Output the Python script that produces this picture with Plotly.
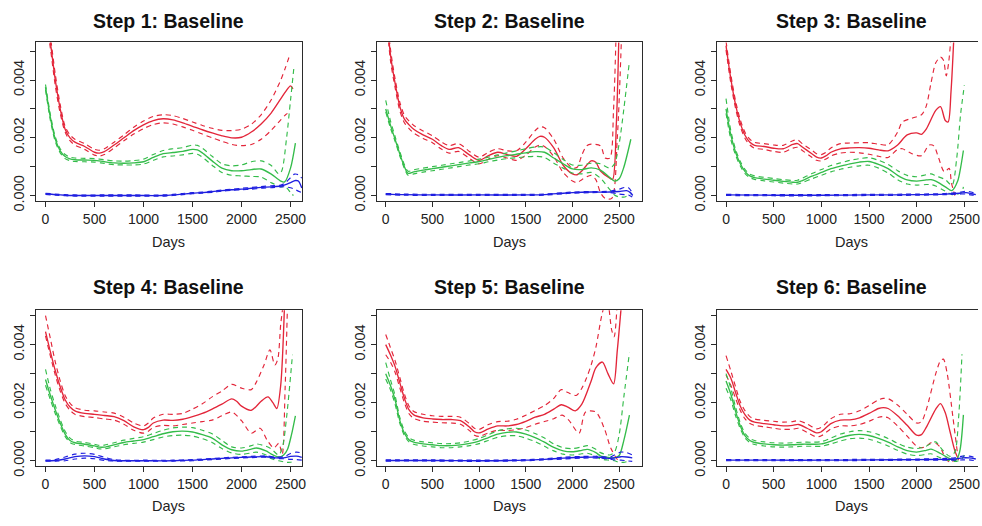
import plotly.graph_objects as go

UNIT = 1e-3  # all series values below are in units of 0.001
TITLES = ["Step 1: Baseline", "Step 2: Baseline", "Step 3: Baseline",
          "Step 4: Baseline", "Step 5: Baseline", "Step 6: Baseline"]
X_LABEL = "Days"
X_TICKS = [0, 500, 1000, 1500, 2000, 2500]
Y_TICKS = [0, 0.001, 0.002, 0.003, 0.004, 0.005]
Y_TICK_TEXT = ["0.000", "", "0.002", "", "0.004", ""]

# ---------------- Step 1 ----------------
P1_RED_MID = [(0,6.4),(50,5.3),(100,4.0),(150,3.0),(200,2.3),(250,2.0),(300,1.85),(400,1.7),(500,1.5),(550,1.47),(600,1.52),(700,1.75),(800,2.0),(900,2.25),(1000,2.45),(1100,2.6),(1200,2.66),(1300,2.62),(1400,2.52),(1500,2.4),(1600,2.28),(1700,2.17),(1800,2.07),(1900,2.0),(2000,2.02),(2100,2.2),(2200,2.48),(2300,2.85),(2400,3.35),(2450,3.6),(2500,3.8),(2525,3.7)]
P1_RED_HI = [(0,6.6),(50,5.5),(100,4.2),(150,3.15),(200,2.4),(250,2.1),(300,1.95),(400,1.8),(500,1.6),(550,1.57),(600,1.62),(700,1.85),(800,2.1),(900,2.37),(1000,2.58),(1100,2.74),(1200,2.8),(1300,2.77),(1400,2.67),(1500,2.55),(1600,2.43),(1700,2.33),(1800,2.26),(1900,2.25),(2000,2.3),(2100,2.47),(2200,2.8),(2300,3.3),(2400,4.0),(2450,4.45),(2490,4.85)]
P1_RED_LO = [(0,6.2),(50,5.1),(100,3.8),(150,2.85),(200,2.2),(250,1.9),(300,1.75),(400,1.6),(500,1.4),(550,1.37),(600,1.42),(700,1.65),(800,1.9),(900,2.13),(1000,2.32),(1100,2.46),(1200,2.52),(1300,2.48),(1400,2.38),(1500,2.26),(1600,2.13),(1700,2.0),(1800,1.88),(1900,1.77),(2000,1.73),(2100,1.77),(2200,1.95),(2300,2.25),(2400,2.62),(2450,2.8),(2490,2.9)]
P1_GRN_MID = [(0,3.76),(50,2.7),(100,1.95),(150,1.55),(200,1.35),(250,1.27),(300,1.24),(400,1.23),(500,1.22),(600,1.17),(700,1.13),(800,1.12),(900,1.13),(1000,1.17),(1100,1.32),(1200,1.45),(1300,1.49),(1400,1.53),(1500,1.6),(1550,1.58),(1600,1.48),(1700,1.2),(1800,0.95),(1900,0.86),(2000,0.86),(2100,0.9),(2200,0.92),(2300,0.75),(2400,0.5),(2440,0.47),(2500,0.95),(2550,1.82)]
P1_GRN_HI = [(0,3.85),(50,2.8),(100,2.03),(150,1.62),(200,1.42),(250,1.33),(300,1.3),(400,1.29),(500,1.28),(600,1.24),(700,1.2),(800,1.19),(900,1.21),(1000,1.26),(1100,1.42),(1200,1.56),(1300,1.62),(1400,1.66),(1500,1.75),(1550,1.74),(1600,1.64),(1700,1.36),(1800,1.1),(1900,1.03),(2000,1.06),(2100,1.17),(2200,1.2),(2300,1.05),(2380,0.75),(2410,0.85),(2460,2.0),(2500,3.3),(2535,4.45)]
P1_GRN_LO = [(0,3.67),(50,2.6),(100,1.87),(150,1.48),(200,1.28),(250,1.21),(300,1.18),(400,1.17),(500,1.16),(600,1.11),(700,1.07),(800,1.06),(900,1.06),(1000,1.09),(1100,1.22),(1200,1.34),(1300,1.37),(1400,1.41),(1500,1.46),(1550,1.43),(1600,1.33),(1700,1.05),(1800,0.8),(1900,0.7),(2000,0.68),(2100,0.66),(2200,0.64),(2300,0.45),(2400,0.3),(2450,0.3),(2500,0.1),(2530,0.0)]
P1_BLU_MID = [(0,0.06),(100,0.03),(200,0.01),(300,0.0),(600,0.0),(900,0.0),(1200,0.0),(1300,0.02),(1400,0.05),(1500,0.08),(1600,0.1),(1700,0.13),(1800,0.17),(1900,0.2),(2000,0.22),(2100,0.25),(2200,0.28),(2300,0.3),(2400,0.33),(2450,0.38),(2500,0.45),(2550,0.52),(2580,0.5),(2615,0.26)]
P1_BLU_HI = [(0,0.08),(100,0.05),(200,0.03),(300,0.02),(600,0.02),(900,0.02),(1200,0.02),(1300,0.04),(1400,0.07),(1500,0.1),(1600,0.12),(1700,0.15),(1800,0.19),(1900,0.22),(2000,0.25),(2100,0.28),(2200,0.31),(2300,0.34),(2400,0.36),(2450,0.45),(2500,0.62),(2540,0.74),(2580,0.72),(2615,0.6)]
P1_BLU_LO = [(0,0.04),(100,0.01),(200,-0.01),(300,-0.02),(600,-0.02),(900,-0.02),(1200,-0.02),(1300,0.0),(1400,0.03),(1500,0.06),(1600,0.08),(1700,0.11),(1800,0.15),(1900,0.18),(2000,0.2),(2100,0.22),(2200,0.25),(2300,0.27),(2400,0.3),(2450,0.3),(2500,0.27),(2550,0.2),(2615,0.1)]

# ---------------- Step 2 ----------------
P2_RED_MID = [(0,6.8),(50,4.9),(100,3.9),(150,3.1),(200,2.65),(250,2.45),(300,2.3),(400,2.1),(500,1.95),(600,1.72),(680,1.6),(780,1.66),(900,1.4),(1000,1.22),(1100,1.38),(1200,1.5),(1300,1.42),(1400,1.36),(1500,1.62),(1600,1.95),(1650,2.05),(1700,2.02),(1800,1.65),(1900,1.05),(2000,0.75),(2050,0.72),(2100,0.85),(2200,1.2),(2250,1.15),(2300,0.85),(2400,0.6),(2430,0.56),(2470,2.5),(2500,6.0)]
P2_RED_HI = [(0,7.0),(50,5.1),(100,4.05),(150,3.25),(200,2.78),(250,2.58),(300,2.43),(400,2.24),(500,2.07),(600,1.85),(680,1.73),(780,1.8),(900,1.52),(1000,1.33),(1100,1.5),(1200,1.62),(1300,1.55),(1400,1.55),(1500,1.85),(1600,2.25),(1650,2.38),(1700,2.35),(1800,1.95),(1900,1.3),(2000,0.95),(2050,0.98),(2100,1.4),(2150,1.72),(2200,1.78),(2300,1.72),(2350,1.3),(2400,1.3),(2440,3.0),(2470,6.0)]
P2_RED_LO = [(0,6.6),(50,4.7),(100,3.75),(150,2.95),(200,2.52),(250,2.32),(300,2.17),(400,1.98),(500,1.83),(600,1.6),(680,1.47),(780,1.53),(900,1.28),(1000,1.1),(1100,1.26),(1200,1.38),(1300,1.3),(1400,1.22),(1500,1.4),(1600,1.68),(1650,1.75),(1700,1.7),(1800,1.35),(1900,0.8),(2000,0.5),(2050,0.45),(2100,0.55),(2200,0.7),(2250,0.55),(2300,0.1),(2350,-0.1),(2420,-0.1),(2480,2.0),(2530,6.0)]
P2_GRN_MID = [(0,3.0),(50,2.45),(100,1.95),(150,1.45),(200,1.0),(240,0.77),(300,0.82),(400,0.88),(500,0.93),(600,0.98),(700,1.03),(800,1.08),(900,1.13),(1000,1.18),(1100,1.25),(1200,1.32),(1300,1.38),(1400,1.43),(1500,1.48),(1600,1.52),(1700,1.5),(1800,1.3),(1900,1.1),(2000,0.92),(2100,0.9),(2200,0.96),(2300,0.88),(2400,0.62),(2450,0.5),(2500,0.58),(2550,0.98),(2625,1.95)]
P2_GRN_HI = [(0,3.3),(50,2.6),(100,2.05),(150,1.53),(200,1.07),(240,0.84),(300,0.89),(400,0.95),(500,1.0),(600,1.05),(700,1.1),(800,1.15),(900,1.2),(1000,1.26),(1100,1.33),(1200,1.41),(1300,1.48),(1400,1.55),(1500,1.62),(1600,1.68),(1700,1.68),(1800,1.48),(1900,1.25),(2000,1.06),(2100,1.05),(2200,1.12),(2300,1.1),(2400,0.95),(2450,1.1),(2500,1.8),(2550,3.0),(2610,4.66)]
P2_GRN_LO = [(0,2.9),(50,2.35),(100,1.88),(150,1.38),(200,0.94),(240,0.7),(300,0.75),(400,0.81),(500,0.86),(600,0.91),(700,0.96),(800,1.01),(900,1.06),(1000,1.1),(1100,1.17),(1200,1.23),(1300,1.28),(1400,1.31),(1500,1.34),(1600,1.36),(1700,1.32),(1800,1.12),(1900,0.95),(2000,0.78),(2100,0.75),(2200,0.8),(2300,0.6),(2400,0.2),(2450,0.02),(2500,-0.05),(2560,-0.05),(2620,0.05)]
P2_BLU_MID = [(0,0.05),(200,0.03),(500,0.02),(1000,0.02),(1500,0.02),(1700,0.03),(1900,0.08),(2000,0.1),(2200,0.12),(2400,0.12),(2500,0.14),(2580,0.17),(2620,0.1),(2645,0.0)]
P2_BLU_HI = [(0,0.07),(200,0.05),(500,0.04),(1000,0.04),(1500,0.04),(1700,0.05),(1900,0.1),(2000,0.12),(2200,0.14),(2400,0.15),(2500,0.22),(2560,0.28),(2600,0.27),(2640,0.1)]
P2_BLU_LO = [(0,0.03),(200,0.01),(500,0.0),(1000,0.0),(1500,0.0),(1700,0.01),(1900,0.06),(2000,0.08),(2200,0.1),(2400,0.1),(2500,0.05),(2560,0.03),(2600,0.02),(2640,-0.05)]

# ---------------- Step 3 ----------------
P3_RED_MID = [(0,5.2),(50,4.05),(100,3.15),(150,2.5),(200,2.08),(250,1.85),(300,1.74),(400,1.7),(500,1.64),(600,1.62),(700,1.77),(750,1.8),(800,1.68),(900,1.45),(950,1.33),(1000,1.3),(1050,1.38),(1100,1.5),(1200,1.62),(1300,1.65),(1400,1.66),(1500,1.64),(1600,1.58),(1700,1.55),(1800,1.75),(1900,2.1),(2000,2.17),(2050,2.12),(2100,2.3),(2200,2.95),(2250,3.08),(2300,2.6),(2330,2.55),(2360,3.6),(2390,5.5)]
P3_RED_HI = [(0,5.35),(50,4.2),(100,3.28),(150,2.62),(200,2.18),(250,1.95),(300,1.84),(400,1.8),(500,1.75),(600,1.74),(700,1.9),(750,1.93),(800,1.8),(900,1.57),(950,1.45),(1000,1.42),(1050,1.5),(1100,1.65),(1200,1.8),(1300,1.82),(1400,1.83),(1500,1.83),(1600,1.78),(1700,1.76),(1800,2.2),(1850,2.55),(1950,2.68),(2050,2.8),(2100,3.1),(2150,3.9),(2200,4.6),(2250,4.8),(2280,4.7),(2310,4.15),(2335,4.6),(2360,5.5)]
P3_RED_LO = [(0,5.05),(50,3.9),(100,3.02),(150,2.38),(200,1.98),(250,1.75),(300,1.64),(400,1.6),(500,1.53),(600,1.5),(700,1.64),(750,1.67),(800,1.56),(900,1.33),(950,1.22),(1000,1.2),(1050,1.27),(1100,1.37),(1200,1.47),(1300,1.5),(1400,1.48),(1500,1.43),(1600,1.36),(1700,1.32),(1800,1.6),(1850,1.62),(1950,1.45),(2050,1.38),(2130,1.75),(2180,1.72),(2230,1.3),(2290,0.82),(2340,0.94),(2365,0.43),(2400,0.0)]
P3_GRN_MID = [(0,3.0),(50,2.1),(100,1.5),(150,1.1),(200,0.83),(250,0.68),(300,0.62),(400,0.57),(500,0.53),(600,0.49),(700,0.46),(750,0.46),(800,0.52),(900,0.67),(1000,0.8),(1100,0.93),(1200,1.02),(1300,1.1),(1400,1.16),(1500,1.18),(1600,1.08),(1700,0.93),(1800,0.7),(1900,0.54),(2000,0.5),(2100,0.54),(2150,0.55),(2200,0.5),(2300,0.3),(2370,0.17),(2430,0.5),(2460,0.95),(2490,1.56)]
P3_GRN_HI = [(0,3.36),(50,2.25),(100,1.6),(150,1.18),(200,0.9),(250,0.74),(300,0.68),(400,0.63),(500,0.59),(600,0.55),(700,0.52),(750,0.53),(800,0.6),(900,0.76),(1000,0.9),(1100,1.04),(1200,1.13),(1300,1.22),(1400,1.28),(1500,1.31),(1600,1.22),(1700,1.08),(1800,0.86),(1900,0.7),(2000,0.65),(2100,0.72),(2150,0.75),(2200,0.68),(2300,0.55),(2370,0.35),(2420,1.3),(2460,2.8),(2500,3.82)]
P3_GRN_LO = [(0,2.85),(50,1.95),(100,1.4),(150,1.02),(200,0.76),(250,0.62),(300,0.56),(400,0.51),(500,0.47),(600,0.43),(700,0.4),(750,0.4),(800,0.45),(900,0.58),(1000,0.7),(1100,0.82),(1200,0.91),(1300,0.98),(1400,1.03),(1500,1.05),(1600,0.95),(1700,0.78),(1800,0.55),(1900,0.4),(2000,0.36),(2100,0.38),(2150,0.38),(2200,0.33),(2300,0.15),(2370,0.03),(2430,0.05),(2470,0.1),(2490,0.3)]
P3_BLU_MID = [(0,0.02),(500,0.01),(1000,0.01),(1500,0.02),(2000,0.03),(2300,0.05),(2450,0.08),(2520,0.1),(2570,0.07),(2620,0.03)]
P3_BLU_HI = [(0,0.04),(500,0.03),(1000,0.03),(1500,0.04),(2000,0.05),(2300,0.07),(2450,0.11),(2520,0.15),(2570,0.12),(2620,0.06)]
P3_BLU_LO = [(0,0.0),(500,-0.01),(1000,-0.01),(1500,0.0),(2000,0.01),(2300,0.03),(2450,0.05),(2520,0.05),(2570,0.02),(2620,0.0)]

# ---------------- Step 4 ----------------
P4_RED_MID = [(0,4.45),(50,3.75),(100,3.1),(150,2.55),(200,2.1),(250,1.85),(300,1.72),(400,1.63),(500,1.6),(600,1.56),(700,1.52),(800,1.38),(900,1.17),(1000,1.07),(1050,1.15),(1100,1.3),(1200,1.4),(1300,1.39),(1400,1.43),(1500,1.52),(1600,1.63),(1700,1.78),(1800,1.95),(1900,2.13),(1950,2.05),(2000,1.88),(2100,1.74),(2200,2.05),(2270,2.2),(2320,2.0),(2360,1.8),(2400,2.6),(2440,5.5)]
P4_RED_HI = [(0,5.0),(50,4.2),(100,3.4),(150,2.75),(200,2.25),(250,1.98),(300,1.83),(400,1.74),(500,1.72),(600,1.68),(700,1.64),(800,1.5),(900,1.3),(1000,1.2),(1050,1.3),(1100,1.47),(1200,1.6),(1300,1.6),(1400,1.63),(1500,1.78),(1600,1.96),(1700,2.2),(1800,2.4),(1900,2.63),(2000,2.5),(2100,2.45),(2150,2.7),(2230,3.3),(2290,3.82),(2340,3.3),(2370,3.5),(2400,4.7),(2430,5.5)]
P4_RED_LO = [(0,4.3),(50,3.6),(100,2.95),(150,2.4),(200,1.98),(250,1.74),(300,1.6),(400,1.52),(500,1.49),(600,1.44),(700,1.4),(800,1.26),(900,1.05),(1000,0.95),(1050,1.02),(1100,1.15),(1200,1.22),(1300,1.2),(1400,1.25),(1500,1.3),(1600,1.35),(1700,1.4),(1800,1.55),(1900,1.68),(2000,1.38),(2100,0.95),(2190,1.12),(2260,0.72),(2330,0.44),(2380,0.6),(2415,0.22),(2445,2.5),(2470,5.5)]
P4_GRN_MID = [(0,2.8),(50,2.25),(100,1.75),(150,1.3),(200,0.92),(250,0.7),(300,0.62),(400,0.57),(500,0.51),(550,0.47),(600,0.47),(700,0.55),(800,0.63),(900,0.68),(1000,0.73),(1100,0.83),(1200,0.93),(1300,1.0),(1400,1.02),(1500,0.99),(1600,0.9),(1700,0.78),(1800,0.55),(1900,0.38),(2000,0.33),(2100,0.4),(2150,0.44),(2250,0.34),(2300,0.24),(2380,0.13),(2430,0.2),(2470,0.4),(2510,0.9),(2550,1.55)]
P4_GRN_HI = [(0,3.15),(50,2.45),(100,1.9),(150,1.42),(200,1.02),(250,0.78),(300,0.68),(400,0.63),(500,0.57),(550,0.53),(600,0.54),(700,0.62),(800,0.71),(900,0.77),(1000,0.83),(1100,0.94),(1200,1.05),(1300,1.13),(1400,1.16),(1500,1.14),(1600,1.05),(1700,0.93),(1800,0.7),(1900,0.48),(2000,0.44),(2100,0.52),(2150,0.58),(2250,0.5),(2300,0.42),(2380,0.2),(2420,0.5),(2460,1.5),(2520,3.65)]
P4_GRN_LO = [(0,2.6),(50,2.1),(100,1.62),(150,1.2),(200,0.84),(250,0.63),(300,0.56),(400,0.51),(500,0.45),(550,0.41),(600,0.41),(700,0.48),(800,0.55),(900,0.6),(1000,0.64),(1100,0.73),(1200,0.82),(1300,0.87),(1400,0.88),(1500,0.85),(1600,0.76),(1700,0.63),(1800,0.42),(1900,0.27),(2000,0.22),(2100,0.27),(2150,0.3),(2250,0.2),(2300,0.08),(2380,0.0),(2450,-0.05),(2500,-0.05),(2540,0.0)]
P4_BLU_MID = [(0,0.0),(100,0.01),(200,0.06),(300,0.14),(400,0.17),(500,0.14),(600,0.06),(700,0.01),(800,0.0),(1000,0.0),(1300,0.0),(1500,0.02),(1700,0.06),(1900,0.1),(2100,0.13),(2250,0.14),(2350,0.1),(2430,0.1),(2500,0.15),(2560,0.16),(2615,0.12)]
P4_BLU_HI = [(0,0.02),(100,0.04),(200,0.13),(300,0.23),(400,0.26),(500,0.22),(600,0.12),(700,0.04),(800,0.02),(1000,0.02),(1300,0.02),(1500,0.04),(1700,0.08),(1900,0.12),(2100,0.15),(2250,0.17),(2350,0.13),(2430,0.14),(2500,0.25),(2560,0.3),(2615,0.27)]
P4_BLU_LO = [(0,-0.01),(100,-0.01),(200,0.0),(300,0.06),(400,0.09),(500,0.07),(600,0.01),(700,-0.01),(800,-0.01),(1000,-0.01),(1300,-0.01),(1500,0.0),(1700,0.04),(1900,0.08),(2100,0.11),(2250,0.12),(2350,0.08),(2430,0.07),(2500,0.05),(2560,0.04),(2615,0.02)]

# ---------------- Step 5 ----------------
P5_RED_MID = [(0,4.0),(50,3.65),(100,3.25),(150,2.7),(200,2.15),(250,1.75),(300,1.58),(400,1.48),(500,1.44),(600,1.42),(700,1.42),(800,1.38),(900,1.15),(950,1.0),(1000,0.96),(1100,1.1),(1200,1.2),(1300,1.2),(1400,1.25),(1500,1.36),(1600,1.5),(1700,1.6),(1800,1.78),(1880,1.93),(1950,1.85),(2030,1.72),(2100,1.95),(2200,2.75),(2250,3.2),(2320,3.4),(2380,3.0),(2440,2.65),(2480,3.8),(2530,5.6)]
P5_RED_HI = [(0,4.35),(50,3.9),(100,3.45),(150,2.88),(200,2.3),(250,1.88),(300,1.7),(400,1.6),(500,1.55),(600,1.53),(700,1.53),(800,1.5),(900,1.27),(950,1.12),(1000,1.08),(1100,1.25),(1200,1.35),(1300,1.36),(1400,1.43),(1500,1.57),(1600,1.73),(1700,1.9),(1800,2.15),(1880,2.45),(1950,2.35),(2040,2.25),(2100,2.5),(2150,2.85),(2200,3.3),(2250,3.9),(2320,5.1),(2370,5.6),(2420,4.5),(2446,4.27),(2480,5.5)]
P5_RED_LO = [(0,3.65),(50,3.4),(100,3.05),(150,2.52),(200,2.0),(250,1.62),(300,1.46),(400,1.36),(500,1.33),(600,1.31),(700,1.3),(800,1.26),(900,1.03),(950,0.88),(1000,0.84),(1100,0.96),(1200,1.05),(1300,1.04),(1400,1.07),(1500,1.14),(1600,1.26),(1700,1.35),(1800,1.45),(1890,1.57),(1960,1.4),(2070,0.95),(2140,1.68),(2250,1.68),(2340,1.12),(2410,0.44),(2480,0.05),(2500,0.02)]
P5_GRN_MID = [(0,3.0),(50,2.6),(100,2.1),(150,1.4),(200,0.95),(250,0.72),(300,0.64),(400,0.58),(500,0.55),(600,0.52),(700,0.52),(800,0.55),(900,0.6),(1000,0.68),(1100,0.8),(1200,0.92),(1300,0.98),(1400,0.99),(1500,0.92),(1600,0.8),(1700,0.64),(1800,0.46),(1900,0.34),(2000,0.31),(2100,0.36),(2160,0.39),(2250,0.28),(2300,0.17),(2400,0.11),(2450,0.1),(2500,0.18),(2550,0.7),(2610,1.57)]
P5_GRN_HI = [(0,3.38),(50,2.8),(100,2.25),(150,1.5),(200,1.03),(250,0.79),(300,0.71),(400,0.65),(500,0.62),(600,0.59),(700,0.59),(800,0.62),(900,0.68),(1000,0.77),(1100,0.9),(1200,1.03),(1300,1.1),(1400,1.12),(1500,1.06),(1600,0.94),(1700,0.78),(1800,0.58),(1900,0.45),(2000,0.42),(2100,0.48),(2160,0.52),(2250,0.4),(2300,0.28),(2400,0.2),(2450,0.3),(2500,0.9),(2550,2.2),(2610,3.72)]
P5_GRN_LO = [(0,2.82),(50,2.45),(100,1.95),(150,1.3),(200,0.87),(250,0.65),(300,0.57),(400,0.51),(500,0.48),(600,0.45),(700,0.45),(800,0.48),(900,0.52),(1000,0.59),(1100,0.7),(1200,0.81),(1300,0.86),(1400,0.86),(1500,0.78),(1600,0.66),(1700,0.5),(1800,0.34),(1900,0.23),(2000,0.2),(2100,0.24),(2160,0.26),(2250,0.16),(2300,0.06),(2400,0.02),(2450,0.0),(2500,-0.05),(2560,-0.05),(2610,0.0)]
P5_BLU_MID = [(0,0.01),(500,0.01),(1000,0.0),(1500,0.02),(1700,0.05),(1900,0.09),(2100,0.12),(2300,0.12),(2400,0.08),(2450,0.1),(2520,0.14),(2580,0.13),(2640,0.1)]
P5_BLU_HI = [(0,0.03),(500,0.03),(1000,0.02),(1500,0.04),(1700,0.07),(1900,0.12),(2100,0.15),(2300,0.15),(2400,0.12),(2450,0.2),(2520,0.3),(2580,0.28),(2640,0.2)]
P5_BLU_LO = [(0,-0.01),(500,-0.01),(1000,-0.02),(1500,0.0),(1700,0.03),(1900,0.06),(2100,0.09),(2300,0.09),(2400,0.05),(2450,0.03),(2520,0.02),(2580,0.0),(2640,-0.02)]

# ---------------- Step 6 ----------------
P6_RED_MID = [(0,3.15),(50,2.85),(100,2.35),(150,1.88),(200,1.58),(250,1.4),(300,1.33),(400,1.28),(500,1.24),(600,1.2),(700,1.22),(760,1.25),(850,1.12),(950,0.96),(1000,1.0),(1100,1.28),(1200,1.4),(1300,1.41),(1400,1.48),(1500,1.63),(1600,1.8),(1650,1.83),(1700,1.8),(1800,1.55),(1900,1.22),(2000,0.88),(2050,0.9),(2100,1.15),(2200,1.78),(2250,1.97),(2300,1.65),(2350,1.0),(2400,0.35),(2440,0.03)]
P6_RED_HI = [(0,3.62),(50,3.1),(100,2.55),(150,2.03),(200,1.72),(250,1.52),(300,1.44),(400,1.39),(500,1.36),(600,1.33),(700,1.35),(760,1.38),(850,1.27),(950,1.1),(1000,1.15),(1100,1.45),(1200,1.6),(1300,1.62),(1400,1.72),(1500,1.9),(1600,2.1),(1650,2.15),(1700,2.14),(1800,1.92),(1900,1.6),(2000,1.3),(2050,1.35),(2100,1.75),(2200,3.0),(2250,3.45),(2280,3.5),(2320,3.0),(2380,1.5),(2430,0.2)]
P6_RED_LO = [(0,2.95),(50,2.6),(100,2.15),(150,1.73),(200,1.44),(250,1.28),(300,1.22),(400,1.17),(500,1.12),(600,1.08),(700,1.09),(760,1.12),(850,0.98),(950,0.82),(1000,0.86),(1100,1.1),(1200,1.2),(1300,1.2),(1400,1.25),(1500,1.36),(1600,1.5),(1650,1.52),(1700,1.48),(1800,1.2),(1900,0.85),(2000,0.5),(2050,0.45),(2100,0.5),(2150,0.62),(2200,0.6),(2250,0.45),(2300,0.1),(2350,-0.05),(2400,0.02),(2440,0.05)]
P6_GRN_MID = [(0,2.75),(50,2.3),(100,1.7),(150,1.2),(200,0.86),(250,0.7),(300,0.63),(400,0.58),(500,0.55),(600,0.54),(700,0.55),(800,0.57),(900,0.57),(1000,0.58),(1100,0.68),(1200,0.8),(1300,0.88),(1400,0.91),(1500,0.87),(1600,0.77),(1700,0.64),(1800,0.48),(1900,0.35),(2000,0.3),(2100,0.36),(2150,0.4),(2250,0.25),(2350,0.07),(2410,0.02),(2450,0.3),(2490,1.58)]
P6_GRN_HI = [(0,3.0),(50,2.5),(100,1.85),(150,1.3),(200,0.94),(250,0.77),(300,0.7),(400,0.65),(500,0.62),(600,0.61),(700,0.62),(800,0.64),(900,0.64),(1000,0.66),(1100,0.78),(1200,0.92),(1300,1.0),(1400,1.04),(1500,1.0),(1600,0.9),(1700,0.77),(1800,0.6),(1900,0.47),(2000,0.42),(2100,0.5),(2150,0.6),(2200,0.65),(2250,0.45),(2350,0.15),(2400,0.3),(2440,1.5),(2475,3.67)]
P6_GRN_LO = [(0,2.5),(50,2.1),(100,1.55),(150,1.1),(200,0.78),(250,0.63),(300,0.56),(400,0.51),(500,0.48),(600,0.47),(700,0.48),(800,0.5),(900,0.5),(1000,0.5),(1100,0.58),(1200,0.68),(1300,0.76),(1400,0.78),(1500,0.74),(1600,0.64),(1700,0.51),(1800,0.36),(1900,0.23),(2000,0.18),(2100,0.22),(2150,0.24),(2250,0.1),(2350,0.0),(2420,-0.02),(2470,0.05),(2500,0.2)]
P6_BLU_MID = [(0,0.02),(500,0.02),(1000,0.02),(1500,0.03),(2000,0.04),(2300,0.05),(2400,0.06),(2480,0.1),(2550,0.1),(2620,0.06)]
P6_BLU_HI = [(0,0.04),(500,0.04),(1000,0.04),(1500,0.05),(2000,0.06),(2300,0.08),(2400,0.1),(2480,0.16),(2550,0.16),(2620,0.1)]
P6_BLU_LO = [(0,0.0),(500,0.0),(1000,0.0),(1500,0.01),(2000,0.02),(2300,0.02),(2400,0.02),(2480,0.03),(2550,0.03),(2620,0.0)]

PANELS = [
    [(P1_RED_LO, P1_RED_HI, P1_RED_MID), (P1_GRN_LO, P1_GRN_HI, P1_GRN_MID), (P1_BLU_LO, P1_BLU_HI, P1_BLU_MID)],
    [(P2_RED_LO, P2_RED_HI, P2_RED_MID), (P2_GRN_LO, P2_GRN_HI, P2_GRN_MID), (P2_BLU_LO, P2_BLU_HI, P2_BLU_MID)],
    [(P3_RED_LO, P3_RED_HI, P3_RED_MID), (P3_GRN_LO, P3_GRN_HI, P3_GRN_MID), (P3_BLU_LO, P3_BLU_HI, P3_BLU_MID)],
    [(P4_RED_LO, P4_RED_HI, P4_RED_MID), (P4_GRN_LO, P4_GRN_HI, P4_GRN_MID), (P4_BLU_LO, P4_BLU_HI, P4_BLU_MID)],
    [(P5_RED_LO, P5_RED_HI, P5_RED_MID), (P5_GRN_LO, P5_GRN_HI, P5_GRN_MID), (P5_BLU_LO, P5_BLU_HI, P5_BLU_MID)],
    [(P6_RED_LO, P6_RED_HI, P6_RED_MID), (P6_GRN_LO, P6_GRN_HI, P6_GRN_MID), (P6_BLU_LO, P6_BLU_HI, P6_BLU_MID)],
]
COLORS = ["#E3263A", "#34BC4A", "#1F1FE0"]

# ---------------- layout geometry (pixels) ----------------
W, H = 982, 526
COL_BOX = [(36.0, 303.3), (378.3, 645.0), (720.0, 982.0)]
COL_CAL = [(45.7, 291.7), (387.3, 621.7), (729.0, 968.3)]   # pixel of day 0 / day 2500
ROW_BOX = [(43.3, 205.0), (316.3, 475.3)]                   # top / bottom
ROW_CAL = [(199.3, 81.7), (469.7, 351.3)]                   # pixel of 0 / 0.004
TITLE_Y = [21.7, 292.3]
XLABEL_Y = [246.7, 516.3]
AXIS_COLOR = "#2b2b2b"
FONT = "Liberation Sans, Arial, Helvetica, sans-serif"

fig = go.Figure()
layout = dict(
    width=W, height=H, margin=dict(l=0, r=0, t=0, b=0),
    paper_bgcolor="white", plot_bgcolor="white", showlegend=False,
    font=dict(family=FONT, color="#222222"),
)
annotations = []

for i, panel in enumerate(PANELS):
    r, c = divmod(i, 3)
    xa = "x" if i == 0 else f"x{i+1}"
    ya = "y" if i == 0 else f"y{i+1}"
    for color, (lo, hi, mid) in zip(COLORS, panel):
        for curve, dash, width in ((lo, "5px,4px", 1.15), (hi, "5px,4px", 1.15), (mid, "solid", 1.35)):
            fig.add_trace(go.Scatter(
                x=[p[0] for p in curve], y=[p[1] * UNIT for p in curve],
                mode="lines", xaxis=xa, yaxis=ya, hoverinfo="skip",
                line=dict(color=color, width=width, dash=dash, shape="spline", smoothing=0.8),
            ))
    bl, br = COL_BOX[c]
    p0, p1 = COL_CAL[c]
    sx = (p1 - p0) / 2500.0
    xr = [(bl - p0) / sx, (br - p0) / sx]
    bt, bb = ROW_BOX[r]
    q0, q1 = ROW_CAL[r]
    sy = (q0 - q1) / 0.004
    yr = [(q0 - bb) / sy, (q0 - bt) / sy]
    xkey = "xaxis" if i == 0 else f"xaxis{i+1}"
    ykey = "yaxis" if i == 0 else f"yaxis{i+1}"
    layout[xkey] = dict(
        domain=[bl / W, br / W], anchor=ya, range=xr, showgrid=False, zeroline=False,
        showline=True, mirror=True, linecolor=AXIS_COLOR, linewidth=1,
        ticks="outside", ticklen=5, tickwidth=1, tickcolor=AXIS_COLOR,
        tickvals=X_TICKS, ticktext=[str(v) for v in X_TICKS],
        tickfont=dict(size=14, family=FONT, color="#222222"),
    )
    layout[ykey] = dict(
        domain=[1 - bb / H, 1 - bt / H], anchor=xa, range=yr, showgrid=False, zeroline=False,
        showline=True, mirror=(c != 2), linecolor=AXIS_COLOR, linewidth=1,
        ticks="outside", ticklen=5, tickwidth=1, tickcolor=AXIS_COLOR,
        tickvals=Y_TICKS, ticktext=Y_TICK_TEXT, tickangle=-90,
        tickfont=dict(size=14.5, family=FONT, color="#222222"),
    )
    cx = (bl + br) / 2 / W
    if c == 2:
        cx = (bl + (p0 + 1.04 * 2620 * sx)) / 2 / W
    annotations.append(dict(
        text=f"<b>{TITLES[i]}</b>", x=cx, y=1 - TITLE_Y[r] / H, xref="paper", yref="paper",
        xanchor="center", yanchor="middle", showarrow=False,
        font=dict(size=19.5, family=FONT, color="#111111"),
    ))
    annotations.append(dict(
        text=X_LABEL, x=cx, y=1 - XLABEL_Y[r] / H, xref="paper", yref="paper",
        xanchor="center", yanchor="middle", showarrow=False,
        font=dict(size=14.5, family=FONT, color="#222222"),
    ))

layout["annotations"] = annotations
fig.update_layout(**layout)
fig.write_html("out.html", config={"displayModeBar": False},
               post_script="document.body.style.margin='0';")
